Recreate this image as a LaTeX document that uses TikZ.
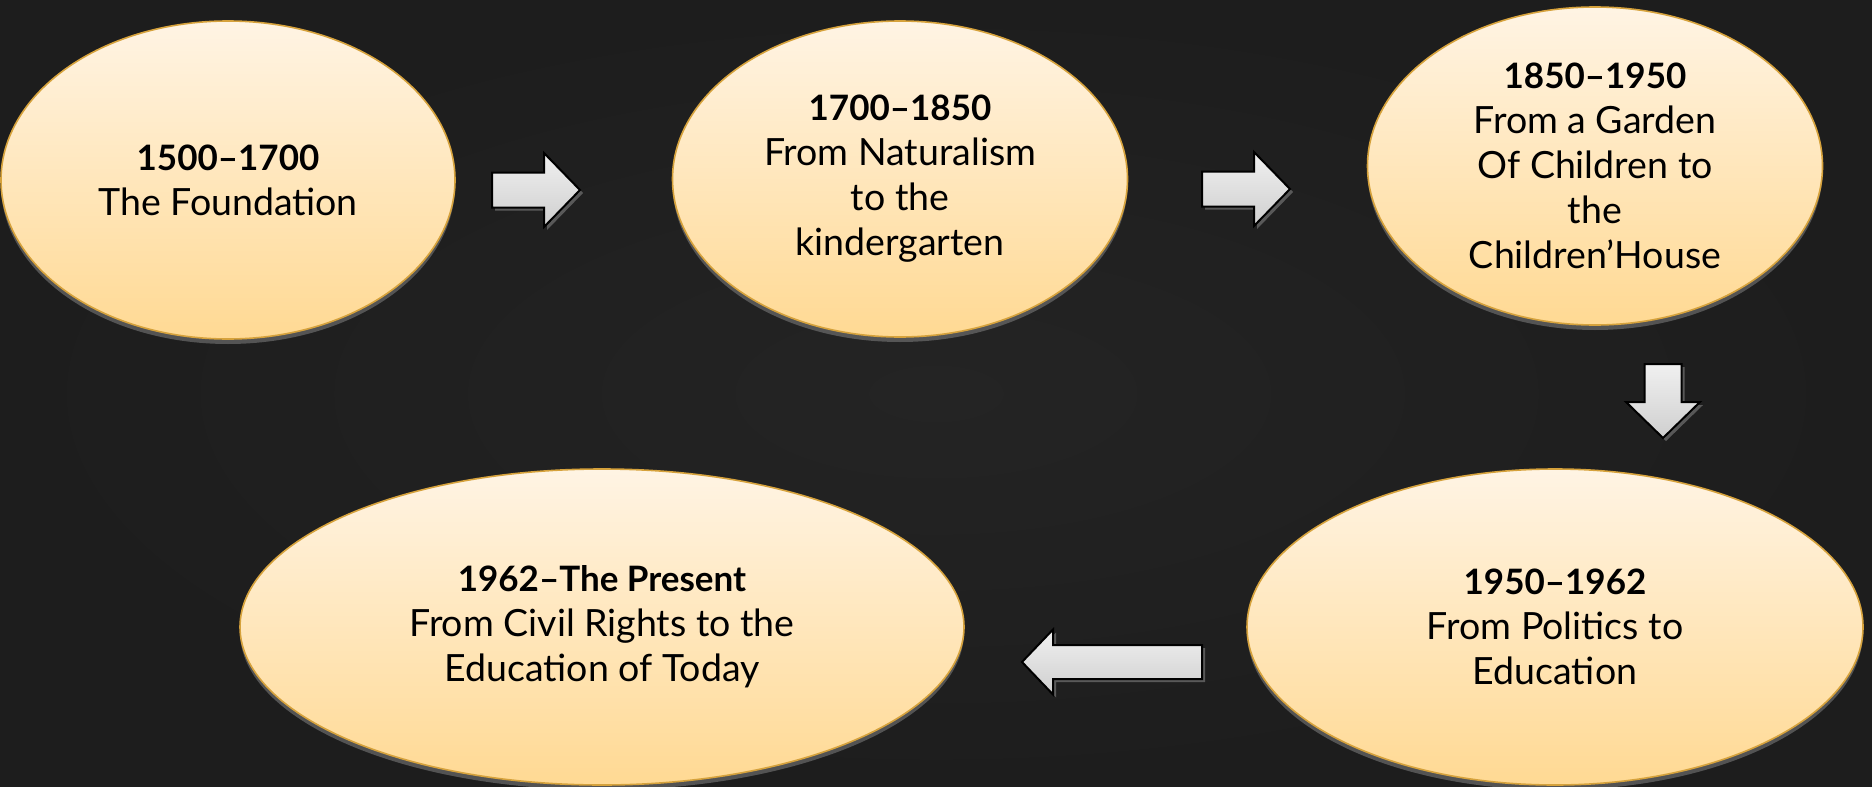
\documentclass[tikz,border=0pt]{standalone}
\usepackage{fontspec}
\setmainfont{Lato}
\usetikzlibrary{shapes.geometric,calc,shadows}
\definecolor{bgc}{HTML}{1D1D1D}
\definecolor{bgl}{HTML}{242424}
\definecolor{etop}{HTML}{FFF4E4}
\definecolor{ebot}{HTML}{FFD993}
\definecolor{ebord}{HTML}{D6A23C}
\definecolor{atop}{HTML}{F0F0F0}
\definecolor{abot}{HTML}{CFCFCF}
\newcommand{\yr}[1]{{\bfseries\fontsize{35}{45}\selectfont #1}}
\tikzset{
  era/.style={ellipse, draw=ebord, line width=1.6pt, top color=etop, bottom color=ebot,
    drop shadow={opacity=0.55, shadow xshift=0pt, shadow yshift=-5pt},
    text=black, align=center, inner sep=0pt, font=\fontsize{37.5}{45}\selectfont},
  blockarr/.style={draw=black, line width=2pt, line join=miter, top color=atop, bottom color=abot,
    drop shadow={opacity=0.6, shadow xshift=3pt, shadow yshift=-3pt}}
}
% #1 start, #2 end, #3 shaft half width, #4 head half width, #5 head length
\newcommand{\blockarrow}[5]{%
  \coordinate (hb) at ($(#2)!#5!(#1)$);
  \path[blockarr] ($(#1)!#3!90:(#2)$) -- ($(hb)!#3!90:(#2)$) -- ($(hb)!#4!90:(#2)$)
    -- (#2) -- ($(hb)!#4!-90:(#2)$) -- ($(hb)!#3!-90:(#2)$) -- ($(#1)!#3!-90:(#2)$) -- cycle;
}
\begin{document}
\begin{tikzpicture}[x=1pt,y=-1pt]
\useasboundingbox (0,0) rectangle (1872,787);
\fill[bgc] (0,0) rectangle (1872,787);
\shade[inner color=bgl, outer color=bgc] (0,0) rectangle (1872,787);

\node[era, minimum width=454pt, minimum height=318pt] (e1) at (228,180)
  {\yr{1500–1700}\\The Foundation};
\node[era, minimum width=455pt, minimum height=316pt] (e2) at (900,179)
  {\yr{1700–1850}\\From Naturalism\\to the\\kindergarten};
\node[era, minimum width=455pt, minimum height=318pt] (e3) at (1595,166)
  {\yr{1850–1950}\\From a Garden\\Of Children to\\the\\Children’House};
\node[era, minimum width=616pt, minimum height=316pt] (e4) at (1555,627)
  {\yr{1950–1962}\\From Politics to\\Education};
\node[era, minimum width=724pt, minimum height=316pt] (e5) at (602,627)
  {\yr{1962–The Present}\\From Civil Rights to the\\Education of Today};

\coordinate (a1s) at (492,190);
\coordinate (a1e) at (580,190);
\coordinate (a2s) at (1202,189);
\coordinate (a2e) at (1290,189);
\coordinate (a3s) at (1663,364);
\coordinate (a3e) at (1663,438);
\coordinate (a4s) at (1202,662);
\coordinate (a4e) at (1022,662);

\blockarrow{a1s}{a1e}{17.5pt}{37pt}{36pt}
\blockarrow{a2s}{a2e}{17.5pt}{37pt}{36pt}
\blockarrow{a3s}{a3e}{18.5pt}{37pt}{36pt}
\blockarrow{a4s}{a4e}{17pt}{32.5pt}{31pt}
\end{tikzpicture}
\end{document}
